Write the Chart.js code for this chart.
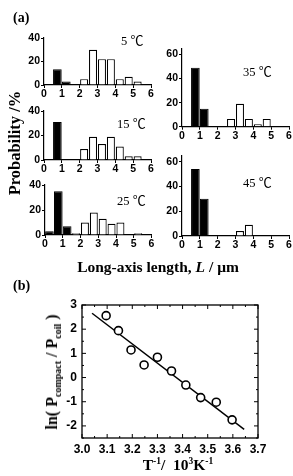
<!DOCTYPE html>
<html><head><meta charset="utf-8">
<script src="https://cdn.jsdelivr.net/npm/chart.js@4"></script>
<style>
html,body{margin:0;padding:0;background:#fff;}
#wrap{position:relative;width:293px;height:476px;overflow:hidden;}
canvas{position:absolute;left:0;top:0;}
.t{position:absolute;white-space:nowrap;color:#000;font-family:"Liberation Serif","Times New Roman",serif;line-height:1;}
.b{font-weight:bold;}
.tc{font-size:12.5px;}
.tc span{font-family:"Noto Sans CJK SC",serif;font-size:13px;font-weight:normal;}
sub,sup{line-height:0;}
</style></head><body>
<div id="wrap">
<canvas id="c5" width="293" height="476"></canvas>
<canvas id="c15" width="293" height="476"></canvas>
<canvas id="c25" width="293" height="476"></canvas>
<canvas id="c35" width="293" height="476"></canvas>
<canvas id="c45" width="293" height="476"></canvas>
<canvas id="cb" width="293" height="476"></canvas>
<div class="t b" style="left:13px;top:11px;font-size:14px;">(a)</div>
<div class="t b" style="left:13px;top:279px;font-size:14px;">(b)</div>
<div class="t tc" style="left:121px;top:33px;">5&nbsp;<span>℃</span></div>
<div class="t tc" style="left:117px;top:116px;">15&nbsp;<span>℃</span></div>
<div class="t tc" style="left:117px;top:193px;">25&nbsp;<span>℃</span></div>
<div class="t tc" style="left:243px;top:64px;">35&nbsp;<span>℃</span></div>
<div class="t tc" style="left:243px;top:175px;">45&nbsp;<span>℃</span></div>
<div class="t b" style="left:15px;top:143px;font-size:16.5px;transform:translate(-50%,-50%) rotate(-90deg);">Probability /%</div>
<div class="t b" style="left:158px;top:267px;font-size:15.5px;transform:translate(-50%,-50%);">Long-axis length, <i>L</i> / μm</div>
<div class="t b" style="left:52px;top:372px;font-size:16px;transform:translate(-50%,-50%) rotate(-90deg);">ln( P<sub style="font-size:10px;">compact</sub> / P<sub style="font-size:10px;">coil</sub> )</div>
<div class="t b" style="left:178px;top:465px;font-size:15.5px;transform:translate(-50%,-50%);">T<sup style="font-size:9.5px;">-1</sup>/&nbsp; 10<sup style="font-size:9.5px;">3</sup>K<sup style="font-size:9.5px;">-1</sup></div>
</div>
<script>
// ---- data ----
const bins = ['0-0.5','0.5-1.0','1.0-1.5','1.5-2.0','2.0-2.5','2.5-3.0','3.0-3.5','3.5-4.0','4.0-4.5','4.5-5.0','5.0-5.5','5.5-6.0'];
const compact5  = [0,13.5,3,0,0,0,0,0,0,0,0,0];
const coil5     = [0,0,0,0,5,30,22,22,5,7,3,0];
const compact15 = [0,31,0,0,0,0,0,0,0,0,0,0];
const coil15    = [0,0,0,0,9,19,13,19,11,3,3,0];
const compact25 = [3,35,7,0,0,0,0,0,0,0,0,0];
const coil25    = [0,0,0,1.5,10,18,13,9,10,0,1.5,0];
const compact35 = [0,49,15,0,0,0,0,0,0,0,0,0];
const coil35    = [0,0,0,0,0,6.5,19,6.5,2,6.5,0,0];
const compact45 = [0,54,30,0,0,0,0,0,0,0,0,0];
const coil45    = [0,0,0,0,0,0,4,9,0,0,0,0];
const lengthTicks = [0,1,2,3,4,5,6];

const invT   = [3.096,3.145,3.195,3.247,3.300,3.356,3.413,3.472,3.534,3.597];
const lnRatio= [2.56,1.94,1.14,0.52,0.84,0.27,-0.31,-0.83,-1.02,-1.75];
const fitX   = [3.04,3.645];
const fitY   = [2.66,-2.14];
const invTTicks = [3.0,3.1,3.2,3.3,3.4,3.5,3.6,3.7];
const lnTicks   = [-2,-1,0,1,2,3];

Chart.defaults.color = '#000';
Chart.defaults.font.family = '"Liberation Sans", Arial, sans-serif';
Chart.defaults.font.weight = 'bold';
Chart.defaults.font.size = 10.5;

const W = 293, H = 476;
function nz(a){ return a.map(v => v === 0 ? null : v); }

function hist(id, compact, coil, yMax, box){
  const Wy = 24, Hx = 14;
  new Chart(document.getElementById(id), {
    type: 'bar',
    data: { labels: bins, datasets: [
      { data: nz(compact), backgroundColor: '#000', borderColor: '#000', borderWidth: 1, xAxisID: 'xb', grouped: false, barPercentage: 0.97, categoryPercentage: 1 },
      { data: nz(coil), backgroundColor: '#fff', borderColor: '#000', borderWidth: 1.2, xAxisID: 'xb', grouped: false, barPercentage: 0.9, categoryPercentage: 1 }
    ]},
    options: {
      responsive: false, animation: false, devicePixelRatio: 1,
      layout: { padding: { left: box.left - Wy, right: W - box.right, top: box.top, bottom: H - box.bottom - Hx } },
      plugins: { legend: { display: false }, tooltip: { enabled: false } },
      scales: {
        xb: { type: 'category', display: false, offset: true },
        x: { type: 'linear', position: 'bottom', min: 0, max: 6, offset: false,
             afterBuildTicks: s => { s.ticks = lengthTicks.map(v => ({ value: v })); },
             afterFit: s => { s.height = Hx; },
             border: { display: true, color: '#000', width: 1.2 },
             grid: { display: true, drawOnChartArea: false, drawTicks: true, tickLength: 3, color: '#000', offset: false },
             ticks: { padding: 0, maxRotation: 0 } },
        y: { min: 0, max: yMax,
             afterBuildTicks: s => { const t = []; for (let v = 0; v <= yMax; v += 10) t.push({ value: v }); s.ticks = t; },
             afterFit: s => { s.width = Wy; },
             border: { display: true, color: '#000', width: 1.2 },
             grid: { display: true, drawOnChartArea: false, drawTicks: true, tickLength: 3, color: '#000' },
             ticks: { padding: 1, callback: v => (v % 20 === 0 ? v : '') } }
      }
    }
  });
}

hist('c5',  compact5,  coil5,  40, { left: 44, right: 151, top: 38, bottom: 85 });
hist('c15', compact15, coil15, 40, { left: 44, right: 151, top: 111, bottom: 160 });
hist('c25', compact25, coil25, 40, { left: 45, right: 151.5, top: 185, bottom: 235 });
hist('c35', compact35, coil35, 65, { left: 182, right: 289, top: 48.5, bottom: 126.7 });
hist('c45', compact45, coil45, 65, { left: 182, right: 289, top: 155.5, bottom: 236 });

// ---- panel (b) ----
const boxTicks = {
  id: 'boxTicks',
  afterDraw(chart){
    const { ctx, chartArea: a, scales: { x, y } } = chart;
    ctx.save();
    ctx.strokeStyle = '#000'; ctx.lineWidth = 1.3;
    ctx.strokeRect(a.left, a.top, a.right - a.left, a.bottom - a.top);
    ctx.lineWidth = 1;
    const seg = (x1, y1, x2, y2) => { ctx.beginPath(); ctx.moveTo(x1, y1); ctx.lineTo(x2, y2); ctx.stroke(); };
    const xs = invTTicks[0], xe = invTTicks[invTTicks.length - 1];
    for (let i = 0; xs + i * 0.05 <= xe + 1e-9; i++) {
      const px = x.getPixelForValue(xs + i * 0.05), len = i % 2 === 0 ? 4 : 2;
      seg(px, a.bottom, px, a.bottom - len); seg(px, a.top, px, a.top + len);
    }
    for (let i = 0; y.min + i * 0.5 <= y.max + 1e-9; i++) {
      const v = y.min + i * 0.5, py = y.getPixelForValue(v), len = Number.isInteger(v) ? 4 : 2;
      seg(a.left, py, a.left + len, py); seg(a.right, py, a.right - len, py);
    }
    ctx.restore();
  }
};

const narrow = '"Liberation Sans Narrow","Liberation Sans",Arial,sans-serif';
new Chart(document.getElementById('cb'), {
  type: 'scatter',
  data: { datasets: [
    { data: invT.map((v, i) => ({ x: v, y: lnRatio[i] })), pointRadius: 4, pointBorderWidth: 1.6, pointBackgroundColor: '#fff', pointBorderColor: '#000', showLine: false },
    { type: 'line', data: fitX.map((v, i) => ({ x: v, y: fitY[i] })), borderColor: '#000', borderWidth: 1.5, pointRadius: 0, fill: false }
  ]},
  options: {
    responsive: false, animation: false, devicePixelRatio: 1,
    layout: { padding: { left: 0, right: W - 258, top: 305, bottom: 0 } },
    plugins: { legend: { display: false }, tooltip: { enabled: false } },
    scales: {
      x: { type: 'linear', min: 3.0, max: 3.7,
           afterBuildTicks: s => { s.ticks = invTTicks.map(v => ({ value: v })); },
           afterFit: s => { s.height = H - 438; },
           border: { display: false }, grid: { display: false, drawTicks: false },
           ticks: { padding: 4, maxRotation: 0, font: { size: 12, family: narrow }, callback: v => Number(v).toFixed(1) } },
      y: { type: 'linear', min: -2.5, max: 3,
           afterBuildTicks: s => { s.ticks = lnTicks.map(v => ({ value: v })); },
           afterFit: s => { s.width = 82; },
           border: { display: false }, grid: { display: false, drawTicks: false },
           ticks: { padding: 5, font: { size: 12, family: narrow } } }
    }
  },
  plugins: [boxTicks]
});
</script>
</body></html>
